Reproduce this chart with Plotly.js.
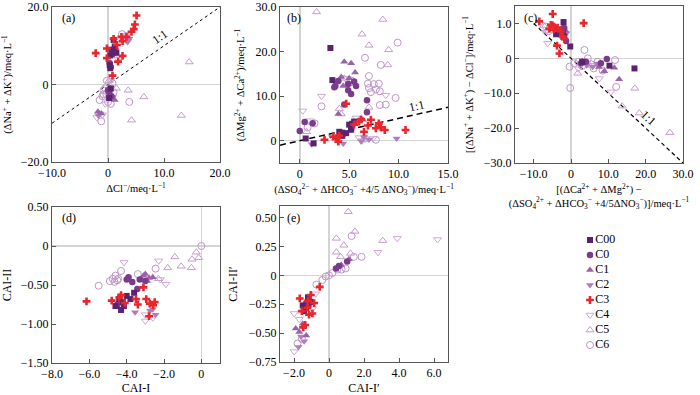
<!DOCTYPE html>
<html>
<head>
<meta charset="utf-8">
<script src="https://cdn.plot.ly/plotly-3.0.1.min.js"></script>
<style>html,body{margin:0;padding:0;background:#fff}#chart{width:700px;height:395px}</style>
</head>
<body>
<div id="chart"></div>
<script>
// ---------- series names ----------
var seriesNames = ["C00", "C0", "C1", "C2", "C3", "C4", "C5", "C6"];

// ---------- panel (a): ΔCl- vs (ΔNa+ + ΔK+) ----------
var aC00x = [1.0, 1.2, 0.8, 1.5, 0.4, 0.3, 0.4, 0.6, 0.2, 0.5];
var aC00y = [11.5, 9.8, 8.5, 8.2, 7.5, 5.0, 4.2, 9.0, -3.5, -1.0];
var aC0x = [1.0, 0.8, 0.3, 0.5, 0.2, 0.6, 1.2, 0.0];
var aC0y = [9.0, 7.8, 5.5, 4.5, -2.0, -3.0, 8.5, -1.5];
var aC1x = [-1.8, -1.2, 0.8, 1.4, 0.5, 1.2];
var aC1y = [-7.0, -7.5, 8.0, 9.5, -2.5, -4.0];
var aC2x = [-1.7, -1.4, 0.3, 0.9, 3.5, 3.8];
var aC2y = [-8.0, -7.5, -2.0, -3.2, 11.0, 11.8];
var aC3x = [5.1, 4.8, 4.6, 4.2, 3.3, 2.4, 2.6, 1.6, -0.2, 2.6, 1.8, -2.2, -0.2, 0.8, 1.0];
var aC3y = [17.8, 15.5, 14.3, 13.6, 12.3, 12.3, 11.2, 10.2, 9.3, 7.4, 5.9, 8.1, 6.8, 2.3, 11.8];
var aC4x = [-2.0, -1.0, 0.2, 1.8, 3.0, -0.5, 0.5, 2.2];
var aC4y = [-8.5, -7.8, -3.0, 6.5, 12.5, -5.0, 1.0, 7.0];
var aC5x = [14.5, 6.4, 13.1, 4.2, 3.6, 1.5, 3.5, 0.2];
var aC5y = [5.8, -3.2, -8.0, -9.2, -1.5, -1.0, 12.0, 1.0];
var aC6x = [-1.2, 3.8, -0.2, -1.5, -0.8, 0.0, 0.3, -0.5, 3.2, -1.0, 0.8, -0.3, 0.5, 1.0, -0.8, 2.5];
var aC6y = [-9.5, -4.5, 1.0, -4.0, -2.5, -4.5, -1.2, -1.0, 12.5, -3.0, 0.3, -2.5, -5.0, -2.0, -1.5, 13.0];

// ---------- panel (b) ----------
var bC00x = [3.1, 3.3, 4.0, 4.3, 4.7, 5.0, 5.3, 5.2, 4.3, 0.6, 1.4, 5.5];
var bC00y = [20.8, 13.6, 2.0, 1.8, 1.7, 3.6, 3.8, 2.5, 1.1, 0.5, -0.6, 4.3];
var bC0x = [3.9, 3.6, 4.9, 5.2, 5.7, 5.5, 4.9, 4.5, 6.8, 6.8, 0.0, 0.5, 1.3, 5.2, 4.4, 3.5];
var bC0y = [13.4, 12.3, 11.3, 10.5, 12.3, 13.3, 12.7, 8.1, 9.1, 6.4, 2.2, 4.2, 3.9, 2.5, 1.5, 12.0];
var bC1x = [4.5, 5.2, 4.2, 5.6, 4.4, 3.9, 6.4, 5.0];
var bC1y = [17.7, 17.4, 14.3, 15.3, 12.3, 6.0, 4.7, 14.0];
var bC2x = [4.4, 6.2, 9.8, 1.2, 7.0, 6.5];
var bC2y = [-0.6, -0.1, 0.5, -0.8, 0.3, 0.8];
var bC3x = [4.7, 2.5, 3.7, 4.0, 6.0, 6.9, 7.2, 8.2, 8.0, 8.6, 10.7, 3.4, 5.5, 6.5, 7.7, 3.9, 6.2];
var bC3y = [8.3, 0.2, 0.5, 1.1, 4.3, 3.4, 4.7, 3.0, 3.9, 2.4, 2.4, 0.9, 3.6, 2.0, 2.8, -0.2, 4.8];
var bC4x = [0.3, 2.2, 8.7, 5.7, 6.0, 7.4, 1.0, 6.3, 3.3, 4.6];
var bC4y = [6.7, 10.0, 10.2, 5.1, 0.7, 0.5, 4.5, 0.0, 0.8, 14.0];
var bC5x = [1.7, 8.4, 6.3, 7.0, 9.0, 8.9, 4.5, 5.0, 4.0, 4.2, 0.7, 7.0];
var bC5y = [28.9, 27.2, 23.9, 21.4, 20.4, 17.0, 14.0, 12.8, 7.2, 6.0, 2.0, 7.5];
var bC6x = [9.9, 6.6, 8.2, 7.0, 6.9, 7.5, 8.0, 7.7, 7.2, 8.1, 8.7, 8.1, 9.7, 2.2, 1.5, 6.6, 7.7, 5.2, 0.8, 7.0];
var bC6y = [22.0, 18.6, 17.0, 14.5, 12.8, 12.7, 12.8, 11.5, 10.9, 11.1, 8.1, 8.0, 9.6, 7.7, 3.9, 0.5, 0.2, 13.5, 3.0, 11.8];

// ---------- panel (c) ----------
var cC00x = [-2.0, -4.0, -2.2, -1.8, -0.2, 10.3, 17.0, 3.0];
var cC00y = [10.4, 6.9, 7.2, 6.25, 3.4, -2.1, -2.9, -1.0];
var cC0x = [-1.8, -1.3, 9.6, 2.7, 8.0, 4.0, -3.0];
var cC0y = [8.7, 5.0, -0.2, -1.4, -1.4, -1.0, 7.5];
var cC1x = [-2.2, 11.6, 12.9, 8.9, 7.5, 3.0, -1.5];
var cC1y = [9.1, -2.7, -6.0, -3.7, -2.5, -0.8, 8.0];
var cC2x = [-2.5, 5.8, 7.0, -1.2, 4.2];
var cC2y = [6.0, -2.4, -1.5, 7.2, -2.0];
var cC3x = [-4.9, 3.4, -8.5, -5.4, -4.5, -3.6, -4.6, -5.8, -2.7, -2.2, -3.75, -3.1, -1.8, -5.0];
var cC3y = [12.7, 10.1, 10.6, 9.6, 9.1, 8.8, 8.2, 8.5, 7.7, 6.25, 3.65, 1.4, 5.6, 9.5];
var cC4x = [-6.25, 7.6, 10.7, -6.8, 2.0, 6.0];
var cC4y = [4.3, -5.8, -9.6, 7.5, -3.0, -2.0];
var cC5x = [-7.3, 1.8, 17.1, 13.7, 18.3, 26.5, -6.5, 5.0];
var cC5y = [9.4, -4.3, -8.6, -13.7, -15.7, -21.3, 8.0, -2.0];
var cC6x = [-0.2, 3.6, -0.4, 4.5, 5.4, 7.1, 6.1, 11.8, 12.1, 0.9, -6.7, -6.0, 2.0, 8.5, 3.0];
var cC6y = [-8.5, 2.4, -2.4, 0.0, -1.7, -1.0, -2.9, -0.5, -8.2, -1.4, 9.1, 7.8, -1.0, -3.5, -2.2];

// ---------- panel (d): CAI-I vs CAI-II ----------
var dC00x = [-4.3, -4.0, -3.8, -4.2, -4.4, -4.6, -4.15, -3.6];
var dC00y = [-0.82, -0.64, -0.68, -0.72, -0.68, -0.77, -0.77, -0.6];
var dC0x = [-4.0, -3.7, -3.43, -3.0, -3.3, -4.5, -3.9];
var dC0y = [-0.43, -0.46, -0.55, -0.45, -0.43, -0.75, -0.40];
var dC1x = [-3.1, -2.8, -3.2, -2.6, -2.9, -3.0];
var dC1y = [-0.38, -0.41, -0.43, -0.40, -0.45, -0.36];
var dC2x = [-3.55, -2.6, -2.45, -2.75];
var dC2y = [-0.85, -0.81, -0.88, -0.83];
var dC3x = [-4.8, -4.4, -4.1, -3.5, -3.4, -3.1, -2.95, -2.76, -2.58, -2.8, -6.15, -2.5, -4.3];
var dC3y = [-0.7, -0.66, -0.73, -0.68, -0.75, -0.53, -0.68, -0.74, -0.76, -0.9, -0.71, -0.72, -0.63];
var dC4x = [-4.14, -2.28, -1.9, -2.2, -3.0, -3.0, -2.6];
var dC4y = [-0.21, -0.19, -0.49, -0.43, -0.88, -0.96, -0.92];
var dC5x = [-0.27, -0.5, -0.14, -0.53, -1.08, -1.8, -1.42, -2.3];
var dC5y = [-0.08, -0.17, -0.15, -0.28, -0.26, -0.28, -0.14, -0.42];
var dC6x = [0.0, -5.5, -4.9, -4.75, -4.6, -4.45, -4.3, -4.65, -3.4, -2.45, -4.5];
var dC6y = [0.0, -0.51, -0.45, -0.42, -0.38, -0.42, -0.32, -0.46, -0.36, -0.29, -0.44];

// ---------- panel (e): CAI-I' vs CAI-II' ----------
var eC00x = [-1.5, -1.42, -1.04, -1.2, -1.3];
var eC00y = [-0.26, -0.31, -0.23, -0.19, -0.28];
var eC0x = [1.04, 0.57, 0.4, -1.17, -1.3];
var eC0y = [0.12, 0.08, 0.06, -0.26, -0.24];
var eC1x = [1.14, 0.7, -1.9, -1.7, -1.5, -1.3];
var eC1y = [0.14, 0.09, -0.46, -0.49, -0.42, -0.52];
var eC2x = [-1.74, -1.42, -1.6];
var eC2y = [-0.62, -0.57, -0.53];
var eC3x = [-0.53, -1.67, -1.04, -0.85, -1.55, -1.14, -0.95, -1.23, -1.36, -1.48, -1.2];
var eC3y = [-0.10, -0.20, -0.17, -0.24, -0.31, -0.34, -0.33, -0.28, -0.43, -0.45, -0.22];
var eC4x = [3.9, 2.8, 6.2, -1.99, -1.99, -0.76, -1.7, -0.95];
var eC4y = [0.32, 0.20, 0.31, -0.33, -0.66, -0.16, -0.38, -0.29];
var eC5x = [1.1, 1.48, 0.42, 0.85, 0.42, 0.66, 1.23, 3.07];
var eC5y = [0.55, 0.38, 0.32, 0.26, 0.20, 0.16, 0.19, 0.30];
var eC6x = [1.29, 1.86, 1.42, -0.38, -0.72, -0.19, 0.19, 0.47, -1.55, -1.8, 0.72, 0.95, 0.0];
var eC6y = [0.34, 0.16, 0.16, -0.04, -0.08, -0.01, 0.02, 0.05, -0.55, -0.59, 0.05, 0.06, 0.0];

// ---------- reference lines ----------
var refAx = [-10, 20], refAy = [-10, 20];
var refBx = [-2, 15], refBy = [-1, 7.5];
var refCx = [-10, 30], refCy = [10, -30];

// ---------- tick labels ----------
var aXt = [-10, 0, 10, 20], aXl = ["−10.0", "0", "10.0", "20.0"];
var aYt = [-20, 0, 20], aYl = ["−20.0", "0", "20.0"];
var bXt = [0, 5, 10, 15], bXl = ["0", "5.0", "10.0", "15.0"];
var bYt = [0, 10, 20, 30], bYl = ["0", "10.0", "20.0", "30.0"];
var cXt = [-10, 0, 10, 20, 30], cXl = ["−10.0", "0", "10.0", "20.0", "30.0"];
var cYt = [-30, -20, -10, 0, 10], cYl = ["−30.0", "−20.0", "−10.0", "0", "1.0"];
var dXt = [-8, -6, -4, -2, 0], dXl = ["−8.0", "−6.0", "−4.0", "−2.0", "0"];
var dYt = [-1.5, -1, -0.5, 0, 0.5], dYl = ["−1.50", "−1.00", "−0.50", "0", "0.50"];
var eXt = [-2, 0, 2, 4, 6], eXl = ["−2.0", "0", "2.0", "4.0", "6.0"];
var eYt = [-0.75, -0.5, -0.25, 0, 0.25, 0.5], eYl = ["−0.75", "−0.50", "−0.25", "0", "0.25", "0.50"];

// ---------- styles ----------
var styles = {
  C00: {symbol: "square", color: "#5a2270", size: 6},
  C0:  {symbol: "circle", color: "#7a3b8c", size: 6.5},
  C1:  {symbol: "triangle-up", color: "#9a62a8", size: 7},
  C2:  {symbol: "triangle-down", color: "#b07cbc", size: 7},
  C3:  {symbol: "cross", color: "#e8262c", size: 6.5},
  C4:  {symbol: "triangle-down-open", color: "#d0a8d6", size: 7},
  C5:  {symbol: "triangle-up-open", color: "#c59ccd", size: 7},
  C6:  {symbol: "circle-open", color: "#bf95c9", size: 7}
};

var panels = [
  {p: "a", xa: "x", ya: "y"},
  {p: "b", xa: "x2", ya: "y2"},
  {p: "c", xa: "x3", ya: "y3"},
  {p: "d", xa: "x4", ya: "y4"},
  {p: "e", xa: "x5", ya: "y5"}
];
var dataStore = {
  a: {C00: [aC00x, aC00y], C0: [aC0x, aC0y], C1: [aC1x, aC1y], C2: [aC2x, aC2y], C3: [aC3x, aC3y], C4: [aC4x, aC4y], C5: [aC5x, aC5y], C6: [aC6x, aC6y]},
  b: {C00: [bC00x, bC00y], C0: [bC0x, bC0y], C1: [bC1x, bC1y], C2: [bC2x, bC2y], C3: [bC3x, bC3y], C4: [bC4x, bC4y], C5: [bC5x, bC5y], C6: [bC6x, bC6y]},
  c: {C00: [cC00x, cC00y], C0: [cC0x, cC0y], C1: [cC1x, cC1y], C2: [cC2x, cC2y], C3: [cC3x, cC3y], C4: [cC4x, cC4y], C5: [cC5x, cC5y], C6: [cC6x, cC6y]},
  d: {C00: [dC00x, dC00y], C0: [dC0x, dC0y], C1: [dC1x, dC1y], C2: [dC2x, dC2y], C3: [dC3x, dC3y], C4: [dC4x, dC4y], C5: [dC5x, dC5y], C6: [dC6x, dC6y]},
  e: {C00: [eC00x, eC00y], C0: [eC0x, eC0y], C1: [eC1x, eC1y], C2: [eC2x, eC2y], C3: [eC3x, eC3y], C4: [eC4x, eC4y], C5: [eC5x, eC5y], C6: [eC6x, eC6y]}
};

function mk(s) {
  var st = styles[s];
  var open = st.symbol.indexOf("open") >= 0;
  return {symbol: st.symbol, size: st.size, color: st.color,
          line: open ? {color: st.color, width: 1} : {width: 0}};
}

var traces = [];
// reference dashed lines
traces.push({x: refAx, y: refAy, xaxis: "x", yaxis: "y", mode: "lines", line: {color: "#000", width: 1, dash: "3px,3px"}, showlegend: false, hoverinfo: "skip"});
traces.push({x: refBx, y: refBy, xaxis: "x2", yaxis: "y2", mode: "lines", line: {color: "#000", width: 1.5, dash: "6px,4px"}, showlegend: false, hoverinfo: "skip"});
traces.push({x: refCx, y: refCy, xaxis: "x3", yaxis: "y3", mode: "lines", line: {color: "#000", width: 1.2, dash: "4px,3px"}, showlegend: false, hoverinfo: "skip"});

// draw open (light) series first, filled on top
var drawOrder = ["C6", "C5", "C4", "C2", "C1", "C0", "C00", "C3"];
panels.forEach(function (pn) {
  drawOrder.forEach(function (s) {
    traces.push({
      x: dataStore[pn.p][s][0], y: dataStore[pn.p][s][1],
      xaxis: pn.xa, yaxis: pn.ya, mode: "markers", type: "scatter",
      name: s, showlegend: false, marker: mk(s), cliponaxis: true
    });
  });
});

// key (legend) drawn on its own hidden category axis, one row per series name
var keyMarkX = 0.125, keyTextX = 0.19;
seriesNames.forEach(function (s) {
  traces.push({x: [keyMarkX], y: [s], xaxis: "x6", yaxis: "y6", mode: "markers",
               marker: mk(s), showlegend: false, hoverinfo: "skip", cliponaxis: false});
});
traces.push({x: seriesNames.map(function () { return keyTextX; }), y: seriesNames, text: seriesNames,
             xaxis: "x6", yaxis: "y6", mode: "text", textposition: "middle right",
             textfont: {family: "Liberation Serif", size: 12, color: "#000"},
             showlegend: false, hoverinfo: "skip", cliponaxis: false});

var serif = "Liberation Serif";
function ax(domain, range, tv, tt, title, anchor, standoff, tsize) {
  return {
    domain: domain, range: range, anchor: anchor,
    tickmode: "array", tickvals: tv, ticktext: tt,
    ticks: "inside", ticklen: 4, tickcolor: "#555",
    showgrid: false, zeroline: true, zerolinecolor: "#d4d4d4", zerolinewidth: 1.5,
    showline: true, mirror: true, linecolor: "#555", linewidth: 1,
    tickfont: {family: serif, size: 12, color: "#000"},
    title: {text: title, font: {family: serif, size: tsize, color: "#000"}, standoff: standoff},
    automargin: false, fixedrange: true
  };
}

var H = 395, W = 700;
function dx(a, b) { return [a / W, b / W]; }
function dy(top, bot) { return [(H - bot) / H, (H - top) / H]; }

var layout = {
  width: W, height: H,
  margin: {l: 0, r: 0, t: 0, b: 0},
  paper_bgcolor: "#fff", plot_bgcolor: "#fff",
  font: {family: serif, size: 12, color: "#000"},
  showlegend: false,
  xaxis: ax(dx(52, 220), [-10, 20], aXt, aXl, "ΔCl<sup>−</sup>/meq·L<sup>−1</sup>", "y", 5, 10.5),
  yaxis: ax(dy(7, 162), [-20, 20], aYt, aYl, "(ΔNa<sup>+</sup> + ΔK<sup>+</sup>)/meq·L<sup>−1</sup>", "x", 8, 10.5),
  xaxis2: ax(dx(280, 448), [-2, 15], bXt, bXl, "(ΔSO<sub>4</sub><sup>2−</sup> + ΔHCO<sub>3</sub><sup>−</sup> +4/5 ΔNO<sub>3</sub><sup>−</sup>)/meq·L<sup>−1</sup>", "y2", 5, 10.5),
  yaxis2: ax(dy(7, 163), [-5, 30], bYt, bYl, "(ΔMg<sup>2+</sup> + ΔCa<sup>2+</sup>)/meq·L<sup>−1</sup>", "x2", 8, 10.5),
  xaxis3: ax(dx(515, 683), [-15, 30], cXt, cXl, "[(ΔCa<sup>2+</sup> + ΔMg<sup>2+</sup>) −<br>(ΔSO<sub>4</sub><sup>2+</sup> + ΔHCO<sub>3</sub><sup>−</sup> +4/5ΔNO<sub>3</sub><sup>−</sup>)]/meq·L<sup>−1</sup>", "y3", 5, 10.5),
  yaxis3: ax(dy(6, 163), [-30, 15], cYt, cYl, "[(ΔNa<sup>+</sup> + ΔK<sup>+</sup>) − ΔCl<sup>−</sup>]/meq·L<sup>−1</sup>", "x3", 8, 10.5),
  xaxis4: ax(dx(52, 220), [-8, 1], dXt, dXl, "CAI-I", "y4", 5, 12),
  yaxis4: ax(dy(207, 363), [-1.5, 0.5], dYt, dYl, "CAI-II", "x4", 8, 12),
  xaxis5: ax(dx(280, 448), [-2.8, 6.8], eXt, eXl, "CAI-I′", "y5", 5, 12),
  yaxis5: ax(dy(206, 362), [-0.75, 0.6], eYt, eYl, "CAI-II′", "x5", 8, 12),
  xaxis6: {domain: dx(580, 660), range: [0, 1], visible: false, fixedrange: true, anchor: "y6"},
  yaxis6: {domain: dy(232.5, 352.5), type: "category", categoryorder: "array", categoryarray: seriesNames,
           range: [7.5, -0.5], visible: false, fixedrange: true, anchor: "x6"},
  annotations: [
    {text: "(a)", xref: "paper", yref: "paper", x: 60 / W, y: (H - 18) / H, xanchor: "left", yanchor: "middle", showarrow: false, font: {family: serif, size: 12}},
    {text: "(b)", xref: "paper", yref: "paper", x: 285 / W, y: (H - 18) / H, xanchor: "left", yanchor: "middle", showarrow: false, font: {family: serif, size: 12}},
    {text: "(c)", xref: "paper", yref: "paper", x: 522 / W, y: (H - 18) / H, xanchor: "left", yanchor: "middle", showarrow: false, font: {family: serif, size: 12}},
    {text: "(d)", xref: "paper", yref: "paper", x: 60 / W, y: (H - 218) / H, xanchor: "left", yanchor: "middle", showarrow: false, font: {family: serif, size: 12}},
    {text: "(e)", xref: "paper", yref: "paper", x: 285 / W, y: (H - 218) / H, xanchor: "left", yanchor: "middle", showarrow: false, font: {family: serif, size: 12}},
    {text: "1:1", xref: "x", yref: "y", x: 9.2, y: 12.3, showarrow: false, textangle: -35, font: {family: serif, size: 12}},
    {text: "1:1", xref: "x2", yref: "y2", x: 11.8, y: 7.8, showarrow: false, textangle: -13, font: {family: serif, size: 12}},
    {text: "1:1", xref: "x3", yref: "y3", x: 20.8, y: -17.0, showarrow: false, textangle: 43, font: {family: serif, size: 12}}
  ]
};

Plotly.newPlot("chart", traces, layout, {displayModeBar: false, staticPlot: true});
</script>
</body>
</html>
